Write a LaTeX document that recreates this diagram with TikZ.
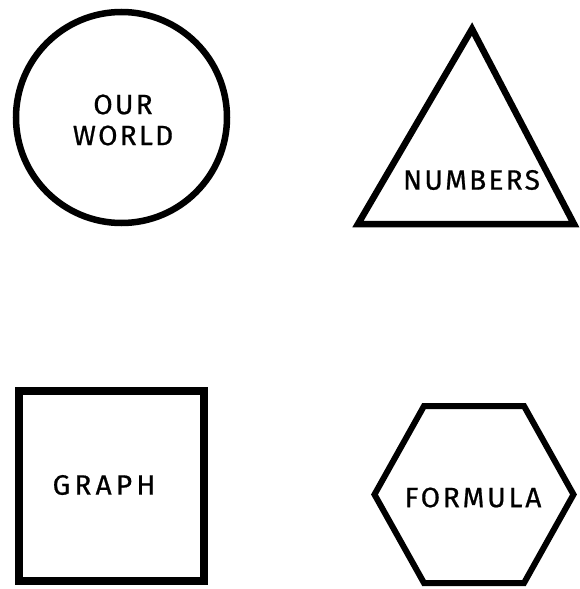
\documentclass[tikz,border=0pt]{standalone}
\usepackage{fontspec}
\setmainfont{Fira Sans}[LetterSpace=8,FakeBold=0.7]
\begin{document}
\begin{tikzpicture}[x=1pt,y=-1pt,
  shapeline/.style={line width=6.5pt,line join=miter,draw=black},
  label/.style={font=\fontsize{28}{31}\selectfont,align=center,inner sep=0pt}]
\useasboundingbox (0,0) rectangle (579,589);
% circle
\draw[shapeline] (121.5,117.5) circle[radius=105.5];
\node[label] (world) at (123,120) {OUR\\WORLD};
% triangle
\draw[shapeline] (472,29) -- (574,224) -- (358,224) -- cycle;
\node[label] (numbers) at (471.5,180) {NUMBERS};
% square
\draw[shapeline,line width=8pt] (19,391) rectangle (204,581);
\node[label,font=\fontsize{28}{31}\selectfont\addfontfeature{LetterSpace=15}] (graph) at (104,485) {GRAPH};
% hexagon
\draw[shapeline,line width=6pt] (374.5,494.5) -- (424,406) -- (524,406) -- (573.5,494.5) -- (524,583) -- (424,583) -- cycle;
\node[label,font=\fontsize{28}{31}\selectfont\addfontfeature{LetterSpace=10}] (formula) at (473,497.5) {FORMULA};
\end{tikzpicture}
\end{document}
